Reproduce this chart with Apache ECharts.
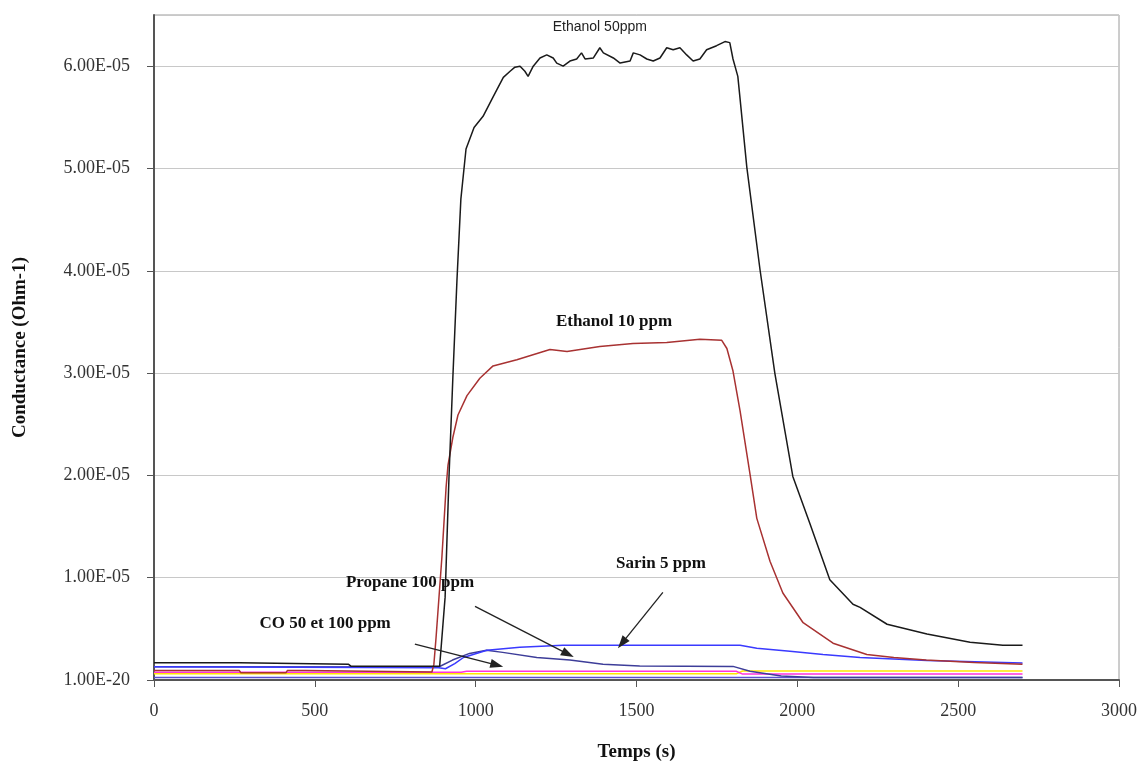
<!DOCTYPE html>
<html>
<head>
<meta charset="utf-8">
<script src="https://cdn.jsdelivr.net/npm/echarts@6/dist/echarts.min.js"></script>
<style>
  html, body { margin: 0; padding: 0; background: #fff; }
  #chart { width: 1141px; height: 767px; }
</style>
</head>
<body>
<div id="chart"></div>
<script>
// [time (s), conductance in units of 1E-05 Ohm-1]
const ethanol50 = [
  [0, 0.168], [265, 0.168], [270, 0.153], [605, 0.153], [612, 0.135], [888, 0.135],
  [905, 0.81], [917, 1.98], [929, 2.95], [942, 3.92], [954, 4.70], [970, 5.19],
  [995, 5.40], [1023, 5.51], [1051, 5.68], [1066, 5.77], [1086, 5.89], [1107, 5.95],
  [1122, 5.99], [1138, 6.00], [1153, 5.95], [1163, 5.90], [1179, 6.00], [1200, 6.08],
  [1221, 6.11], [1241, 6.08], [1252, 6.03], [1272, 6.00], [1293, 6.05], [1314, 6.07],
  [1329, 6.13], [1340, 6.07], [1366, 6.08], [1386, 6.18], [1397, 6.13], [1428, 6.08],
  [1449, 6.03], [1480, 6.05], [1490, 6.13], [1511, 6.11], [1532, 6.07], [1552, 6.05],
  [1573, 6.08], [1594, 6.18], [1614, 6.16], [1635, 6.18], [1656, 6.11], [1676, 6.05],
  [1697, 6.07], [1718, 6.16], [1749, 6.20], [1775, 6.24], [1790, 6.23], [1800, 6.07],
  [1815, 5.90], [1822, 5.68], [1843, 5.01], [1884, 4.01], [1930, 3.00], [1986, 1.99],
  [2039, 1.53], [2101, 0.98], [2173, 0.74], [2195, 0.71], [2279, 0.545], [2403, 0.45],
  [2537, 0.37], [2639, 0.34], [2700, 0.34]
];
const ethanol10 = [
  [0, 0.094], [265, 0.094], [270, 0.07], [410, 0.07], [415, 0.094], [470, 0.094],
  [475, 0.078], [864, 0.078], [870, 0.15], [877, 0.42], [895, 1.2], [908, 1.88],
  [914, 2.10], [929, 2.37], [945, 2.59], [973, 2.78], [1013, 2.95], [1054, 3.07],
  [1128, 3.13], [1231, 3.23], [1284, 3.21], [1386, 3.26], [1489, 3.29], [1594, 3.30],
  [1697, 3.33], [1765, 3.32], [1781, 3.24], [1800, 3.02], [1822, 2.63], [1853, 2.01],
  [1874, 1.58], [1915, 1.16], [1955, 0.85], [2018, 0.56], [2111, 0.36], [2216, 0.25],
  [2300, 0.22], [2400, 0.195], [2550, 0.17], [2700, 0.155]
];
const sarin5 = [
  [0, 0.13], [885, 0.12], [906, 0.11], [935, 0.16], [962, 0.22], [1035, 0.29],
  [1137, 0.32], [1271, 0.34], [1822, 0.34], [1874, 0.31], [1977, 0.28], [2080, 0.25],
  [2195, 0.22], [2403, 0.19], [2700, 0.165]
];
const propane100 = [
  [0, 0.13], [885, 0.127], [928, 0.195], [981, 0.26], [1034, 0.29], [1084, 0.27],
  [1190, 0.22], [1293, 0.195], [1396, 0.155], [1510, 0.136], [1800, 0.133],
  [1853, 0.085], [1950, 0.04], [2050, 0.025], [2700, 0.025]
];
const co50 = [[0, 0.06], [1810, 0.06], [1830, 0.088], [2700, 0.088]];
const co100 = [[0, 0.075], [955, 0.075], [972, 0.085], [1810, 0.085], [1830, 0.058], [2700, 0.058]];
const airRef = [[0, 0.025], [2700, 0.025]];

// annotations: [text, time, conductance]
const notes = [
  ['Ethanol 50ppm', 1386, 6.38],
  ['Ethanol 10 ppm', 1430, 3.5],
  ['Propane 100 ppm', 796, 0.954],
  ['CO 50 et 100 ppm', 532, 0.555],
  ['Sarin 5 ppm', 1576, 1.14]
];
// arrows: [from, to] in data coordinates
const arrows = [
  [[1582, 0.857], [1455, 0.36]],
  [[998, 0.72], [1287, 0.253]],
  [[811, 0.35], [1066, 0.146]]
];

const chart = echarts.init(document.getElementById('chart'));

const serif = '"Liberation Serif", "DejaVu Serif", serif';

const line = (name, data, color, extra) => Object.assign({
  name,
  type: 'line',
  data,
  showSymbol: false,
  symbol: 'none',
  animation: false,
  lineStyle: { color, width: 1.5 },
  itemStyle: { color }
}, extra || {});

const noteData = notes.map(([text, t, c], i) => ({
  coord: [t, c],
  label: {
    show: true,
    position: 'inside',
    formatter: text,
    color: i === 0 ? '#222' : '#111',
    fontFamily: i === 0 ? '"Liberation Sans", Arial, sans-serif' : serif,
    fontWeight: i === 0 ? 'normal' : 'bold',
    fontSize: i === 0 ? 14 : 17
  }
}));

const option = {
  backgroundColor: '#fff',
  grid: {
    left: 154, right: 22, top: 15, bottom: 84,
    show: true, borderColor: '#9a9a9a', borderWidth: 1
  },
  xAxis: {
    type: 'value',
    min: 0, max: 3000, interval: 500,
    name: 'Temps (s)',
    nameLocation: 'middle',
    nameGap: 63,
    nameTextStyle: { fontFamily: serif, fontWeight: 'bold', fontSize: 19, color: '#111' },
    axisLine: { show: true, lineStyle: { color: '#555', width: 2 } },
    axisTick: { show: true, length: 7, lineStyle: { color: '#555' } },
    axisLabel: { margin: 22, fontFamily: serif, fontSize: 18, color: '#333', formatter: v => String(v) },
    splitLine: { show: false }
  },
  yAxis: {
    type: 'value',
    min: 0, max: 6.5, interval: 1,
    name: 'Conductance (Ohm-1)',
    nameLocation: 'middle',
    nameGap: 124,
    nameTextStyle: { fontFamily: serif, fontWeight: 'bold', fontSize: 19, color: '#111' },
    axisLine: { show: true, lineStyle: { color: '#555', width: 2 } },
    axisTick: { show: true, length: 7, lineStyle: { color: '#555' } },
    axisLabel: {
      margin: 24,
      fontFamily: serif, fontSize: 18, color: '#333',
      showMaxLabel: false,
      formatter: v => v === 0 ? '1.00E-20' : (v > 6.01 ? '' : v.toFixed(2) + 'E-05')
    },
    splitLine: { show: true, lineStyle: { color: '#c8c8c8', width: 1.2 } }
  },
  series: [
    line('Air', airRef, '#5a4fcf'),
    line('CO 50 ppm', co50, '#ffe600'),
    line('CO 100 ppm', co100, '#ff33dd'),
    line('Propane 100 ppm', propane100, '#3d3d99'),
    line('Sarin 5 ppm', sarin5, '#3a3aff'),
    line('Ethanol 10 ppm', ethanol10, '#a83232'),
    line('Ethanol 50 ppm', ethanol50, '#1a1a1a', {
      markPoint: {
        symbol: 'circle',
        symbolSize: 1,
        itemStyle: { color: 'transparent' },
        silent: true,
        animation: false,
        data: noteData
      },
      markLine: {
        silent: true,
        animation: false,
        symbol: ['none', 'triangle'],
        symbolSize: [9, 13],
        label: { show: false },
        lineStyle: { color: '#222', width: 1.3, type: 'solid' },
        emphasis: { disabled: true },
        data: arrows.map(([a, b]) => [{ coord: a }, { coord: b }])
      }
    })
  ]
};

chart.setOption(option);
window.addEventListener('resize', () => chart.resize());
</script>
</body>
</html>
